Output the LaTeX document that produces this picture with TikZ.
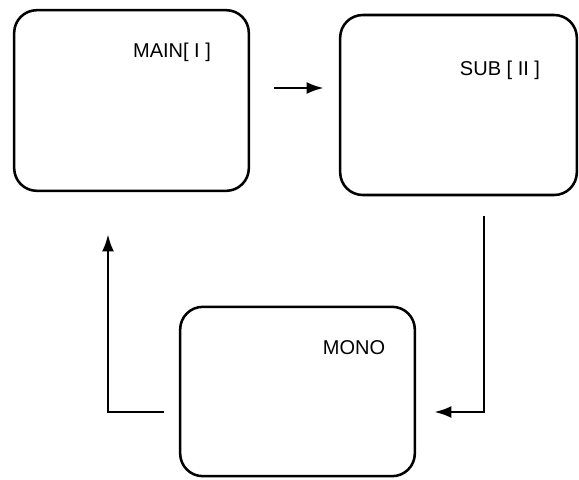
\documentclass[tikz,border=0pt]{standalone}
\usepackage{fontspec}
\setmainfont{Liberation Sans}
\usetikzlibrary{positioning, arrows.meta, calc}

\begin{document}
\begin{tikzpicture}[
    x=0.75pt, y=-0.75pt,
    screen/.style={
        draw=black, line width=1.9pt, rectangle, rounded corners=17pt,
        minimum width=176pt, minimum height=#1, inner sep=0pt
    },
    lbl/.style={font=\fontsize{15}{17}\selectfont, inner sep=0pt},
    flow/.style={-{Latex[length=13pt,width=9pt]}, line width=2pt, draw=black}
]

% marco de la figura
\useasboundingbox (0,0) rectangle (579,479);

% ------------------------------------------------------------------------------
% 1. PANTALLAS
% ------------------------------------------------------------------------------
\node[screen=135.5pt] (main) at (131.5,100.5) {};
\node[screen=135pt, minimum width=177.5pt] (sub) at (458.5,105) {};
\node[screen=127pt] (mono) at (297.5,391.5) {};

% rótulos
\node[lbl] (mainlbl) at (172,52) {MAIN[ I ]};
\node[lbl] (sublbl) at (500,70) {SUB [ II ]};
\node[lbl] (monolbl) at (354,348) {MONO};

% ------------------------------------------------------------------------------
% 2. FLECHAS (ciclo)
% ------------------------------------------------------------------------------
\draw[flow] ($(main.east)+(24,-12.5)$) -- ($(sub.west)+(-15,-17)$);
\draw[flow] ($(sub.south)+(25.5,20)$) |- ($(mono.east)+(18,20.5)$);
\draw[flow] ($(mono.west)+(-15,20.5)$) -| ($(main.south)+(-23.5,42)$);

\end{tikzpicture}
\end{document}
